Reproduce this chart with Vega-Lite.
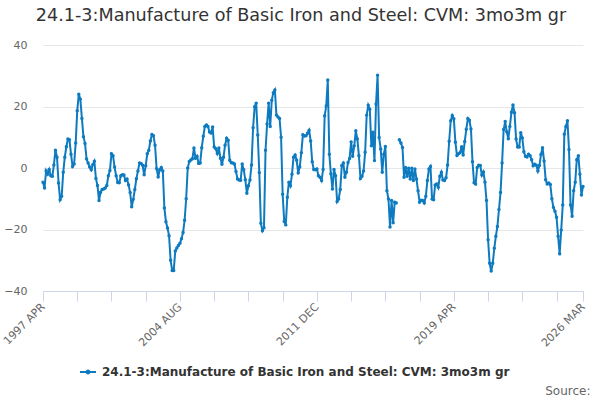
{
  "$schema": "https://vega.github.io/schema/vega-lite/v6.json",
  "width": 540,
  "height": 246,
  "autosize": "none",
  "padding": {"left": 43, "top": 45, "right": 17, "bottom": 109},
  "background": "white",
  "title": {
    "text": "24.1-3:Manufacture of Basic Iron and Steel: CVM: 3mo3m gr",
    "font": "DejaVu Sans",
    "fontSize": 17.6,
    "fontWeight": "normal",
    "color": "#333333",
    "anchor": "middle",
    "dx": -12,
    "offset": 14
  },
  "data": {
    "values": [
      {"m": "1997 APR", "v": -4.6}, {"m": "1997 MAY", "v": -6.5}, {"m": "1997 JUN", "v": -0.9}, {"m": "1997 JUL", "v": -2.0}, {"m": "1997 AUG", "v": -0.5}, {"m": "1997 SEP", "v": -2.5}, {"m": "1997 OCT", "v": -2.7}, {"m": "1997 NOV", "v": 1.0}, {"m": "1997 DEC", "v": 5.8},
      {"m": "1998 JAN", "v": 3.5}, {"m": "1998 FEB", "v": -4.9}, {"m": "1998 MAR", "v": -10.3}, {"m": "1998 APR", "v": -9.2}, {"m": "1998 MAY", "v": -1.4}, {"m": "1998 JUN", "v": 3.5}, {"m": "1998 JUL", "v": 6.9}, {"m": "1998 AUG", "v": 9.4}, {"m": "1998 SEP", "v": 9.2}, {"m": "1998 OCT", "v": 4.5}, {"m": "1998 NOV", "v": 0.5}, {"m": "1998 DEC", "v": 1.3},
      {"m": "1999 JAN", "v": 8.1}, {"m": "1999 FEB", "v": 18.6}, {"m": "1999 MAR", "v": 24.0}, {"m": "1999 APR", "v": 22.4}, {"m": "1999 MAY", "v": 16.1}, {"m": "1999 JUN", "v": 10.2}, {"m": "1999 JUL", "v": 8.0}, {"m": "1999 AUG", "v": 2.9}, {"m": "1999 SEP", "v": 1.6}, {"m": "1999 OCT", "v": 0.3}, {"m": "1999 NOV", "v": -0.6}, {"m": "1999 DEC", "v": 1.1},
      {"m": "2000 JAN", "v": 2.2}, {"m": "2000 FEB", "v": -3.4}, {"m": "2000 MAR", "v": -5.7}, {"m": "2000 APR", "v": -10.6}, {"m": "2000 MAY", "v": -7.9}, {"m": "2000 JUN", "v": -7.0}, {"m": "2000 JUL", "v": -6.8}, {"m": "2000 AUG", "v": -6.5}, {"m": "2000 SEP", "v": -5.7}, {"m": "2000 OCT", "v": -2.5}, {"m": "2000 NOV", "v": -0.8}, {"m": "2000 DEC", "v": 4.6},
      {"m": "2001 JAN", "v": 4.0}, {"m": "2001 FEB", "v": 0.3}, {"m": "2001 MAR", "v": -2.5}, {"m": "2001 APR", "v": -4.7}, {"m": "2001 MAY", "v": -4.8}, {"m": "2001 JUN", "v": -2.5}, {"m": "2001 JUL", "v": -2.2}, {"m": "2001 AUG", "v": -2.3}, {"m": "2001 SEP", "v": -4.1}, {"m": "2001 OCT", "v": -3.6}, {"m": "2001 NOV", "v": -5.5}, {"m": "2001 DEC", "v": -8.0},
      {"m": "2002 JAN", "v": -12.6}, {"m": "2002 FEB", "v": -10.2}, {"m": "2002 MAR", "v": -7.0}, {"m": "2002 APR", "v": -3.5}, {"m": "2002 MAY", "v": -1.0}, {"m": "2002 JUN", "v": 1.6}, {"m": "2002 JUL", "v": 1.5}, {"m": "2002 AUG", "v": 0.9}, {"m": "2002 SEP", "v": -2.2}, {"m": "2002 OCT", "v": 0.7}, {"m": "2002 NOV", "v": 4.6}, {"m": "2002 DEC", "v": 5.8},
      {"m": "2003 JAN", "v": 8.8}, {"m": "2003 FEB", "v": 10.9}, {"m": "2003 MAR", "v": 10.5}, {"m": "2003 APR", "v": 7.4}, {"m": "2003 MAY", "v": -0.2}, {"m": "2003 JUN", "v": -2.9}, {"m": "2003 JUL", "v": -0.6}, {"m": "2003 AUG", "v": 0.2}, {"m": "2003 SEP", "v": -1.0}, {"m": "2003 OCT", "v": -13.0}, {"m": "2003 NOV", "v": -17.5}, {"m": "2003 DEC", "v": -19.5},
      {"m": "2004 JAN", "v": -22.0}, {"m": "2004 FEB", "v": -30.0}, {"m": "2004 MAR", "v": -33.3}, {"m": "2004 APR", "v": -33.3}, {"m": "2004 MAY", "v": -27.0}, {"m": "2004 JUN", "v": -26.0}, {"m": "2004 JUL", "v": -25.2}, {"m": "2004 AUG", "v": -24.5}, {"m": "2004 SEP", "v": -23.0}, {"m": "2004 OCT", "v": -21.0}, {"m": "2004 NOV", "v": -17.0}, {"m": "2004 DEC", "v": -10.0},
      {"m": "2005 JAN", "v": 0.0}, {"m": "2005 FEB", "v": 2.1}, {"m": "2005 MAR", "v": 2.6}, {"m": "2005 APR", "v": 3.0}, {"m": "2005 MAY", "v": 6.5}, {"m": "2005 JUN", "v": 3.2}, {"m": "2005 JUL", "v": 3.8}, {"m": "2005 AUG", "v": 1.5}, {"m": "2005 SEP", "v": 1.6}, {"m": "2005 OCT", "v": 6.6}, {"m": "2005 NOV", "v": 10.3}, {"m": "2005 DEC", "v": 13.5},
      {"m": "2006 JAN", "v": 14.0}, {"m": "2006 FEB", "v": 13.5}, {"m": "2006 MAR", "v": 11.7}, {"m": "2006 APR", "v": 11.4}, {"m": "2006 MAY", "v": 13.3}, {"m": "2006 JUN", "v": 6.8}, {"m": "2006 JUL", "v": 6.3}, {"m": "2006 AUG", "v": 4.7}, {"m": "2006 SEP", "v": 6.5}, {"m": "2006 OCT", "v": 3.2}, {"m": "2006 NOV", "v": 1.2}, {"m": "2006 DEC", "v": 3.5},
      {"m": "2007 JAN", "v": 7.4}, {"m": "2007 FEB", "v": 9.7}, {"m": "2007 MAR", "v": 9.0}, {"m": "2007 APR", "v": 2.5}, {"m": "2007 MAY", "v": 1.7}, {"m": "2007 JUN", "v": 1.6}, {"m": "2007 JUL", "v": 1.3}, {"m": "2007 AUG", "v": -1.1}, {"m": "2007 SEP", "v": -3.6}, {"m": "2007 OCT", "v": -3.9}, {"m": "2007 NOV", "v": -4.0}, {"m": "2007 DEC", "v": 1.3},
      {"m": "2008 JAN", "v": -0.6}, {"m": "2008 FEB", "v": -3.8}, {"m": "2008 MAR", "v": -8.2}, {"m": "2008 APR", "v": -5.8}, {"m": "2008 MAY", "v": -3.9}, {"m": "2008 JUN", "v": 1.0}, {"m": "2008 JUL", "v": 13.1}, {"m": "2008 AUG", "v": 19.9}, {"m": "2008 SEP", "v": 21.1}, {"m": "2008 OCT", "v": 10.7}, {"m": "2008 NOV", "v": -1.5}, {"m": "2008 DEC", "v": -18.0},
      {"m": "2009 JAN", "v": -20.4}, {"m": "2009 FEB", "v": -19.4}, {"m": "2009 MAR", "v": 5.8}, {"m": "2009 APR", "v": 14.3}, {"m": "2009 MAY", "v": 21.1}, {"m": "2009 JUN", "v": 13.5}, {"m": "2009 JUL", "v": 22.0}, {"m": "2009 AUG", "v": 24.5}, {"m": "2009 SEP", "v": 25.4}, {"m": "2009 OCT", "v": 17.2}, {"m": "2009 NOV", "v": 16.6}, {"m": "2009 DEC", "v": 16.1},
      {"m": "2010 JAN", "v": 10.0}, {"m": "2010 FEB", "v": -8.5}, {"m": "2010 MAR", "v": -17.4}, {"m": "2010 APR", "v": -18.5}, {"m": "2010 MAY", "v": -9.5}, {"m": "2010 JUN", "v": -4.6}, {"m": "2010 JUL", "v": -5.8}, {"m": "2010 AUG", "v": -2.0}, {"m": "2010 SEP", "v": 3.5}, {"m": "2010 OCT", "v": 4.2}, {"m": "2010 NOV", "v": 2.5}, {"m": "2010 DEC", "v": -1.6},
      {"m": "2011 JAN", "v": 0.4}, {"m": "2011 FEB", "v": 5.0}, {"m": "2011 MAR", "v": 10.8}, {"m": "2011 APR", "v": 10.4}, {"m": "2011 MAY", "v": 10.5}, {"m": "2011 JUN", "v": 11.3}, {"m": "2011 JUL", "v": 12.3}, {"m": "2011 AUG", "v": 8.8}, {"m": "2011 SEP", "v": 2.0}, {"m": "2011 OCT", "v": -0.5}, {"m": "2011 NOV", "v": -0.6}, {"m": "2011 DEC", "v": -0.3},
      {"m": "2012 JAN", "v": -2.5}, {"m": "2012 FEB", "v": -3.0}, {"m": "2012 MAR", "v": -4.1}, {"m": "2012 APR", "v": -0.5}, {"m": "2012 MAY", "v": 17.0}, {"m": "2012 JUN", "v": 20.2}, {"m": "2012 JUL", "v": 28.6}, {"m": "2012 AUG", "v": 4.5}, {"m": "2012 SEP", "v": -1.9}, {"m": "2012 OCT", "v": -6.8}, {"m": "2012 NOV", "v": -0.5}, {"m": "2012 DEC", "v": -2.5},
      {"m": "2013 JAN", "v": -10.9}, {"m": "2013 FEB", "v": -10.1}, {"m": "2013 MAR", "v": -7.0}, {"m": "2013 APR", "v": 0.8}, {"m": "2013 MAY", "v": 1.6}, {"m": "2013 JUN", "v": -3.0}, {"m": "2013 JUL", "v": -1.4}, {"m": "2013 AUG", "v": 1.8}, {"m": "2013 SEP", "v": 3.1}, {"m": "2013 OCT", "v": 8.5}, {"m": "2013 NOV", "v": 3.8}, {"m": "2013 DEC", "v": 7.2},
      {"m": "2014 JAN", "v": 12.1}, {"m": "2014 FEB", "v": 9.4}, {"m": "2014 MAR", "v": 4.0}, {"m": "2014 APR", "v": -3.4}, {"m": "2014 MAY", "v": -2.7}, {"m": "2014 JUN", "v": -1.0}, {"m": "2014 JUL", "v": 5.1}, {"m": "2014 AUG", "v": 17.2}, {"m": "2014 SEP", "v": 20.4}, {"m": "2014 OCT", "v": 19.1}, {"m": "2014 NOV", "v": 7.2}, {"m": "2014 DEC", "v": 11.6},
      {"m": "2015 JAN", "v": 2.4}, {"m": "2015 FEB", "v": 20.8}, {"m": "2015 MAR", "v": 30.2}, {"m": "2015 APR", "v": 9.9}, {"m": "2015 MAY", "v": 6.2}, {"m": "2015 JUN", "v": -1.4}, {"m": "2015 JUL", "v": 4.5}, {"m": "2015 AUG", "v": 7.0}, {"m": "2015 SEP", "v": -7.4}, {"m": "2015 OCT", "v": -10.1}, {"m": "2015 NOV", "v": -19.2}, {"m": "2015 DEC", "v": -10.6},
      {"m": "2016 JAN", "v": -17.8}, {"m": "2016 FEB", "v": -11.1}, {"m": "2016 MAR", "v": -11.4}, {"m": "2016 APR", "v": null}, {"m": "2016 MAY", "v": 9.2}, {"m": "2016 JUN", "v": 8.1}, {"m": "2016 JUL", "v": 6.7}, {"m": "2016 AUG", "v": -3.0}, {"m": "2016 SEP", "v": 0.2}, {"m": "2016 OCT", "v": -2.7}, {"m": "2016 NOV", "v": -0.1}, {"m": "2016 DEC", "v": -3.6},
      {"m": "2017 JAN", "v": -0.1}, {"m": "2017 FEB", "v": -4.1}, {"m": "2017 MAR", "v": -0.3}, {"m": "2017 APR", "v": -3.6}, {"m": "2017 MAY", "v": -7.4}, {"m": "2017 JUN", "v": -11.1}, {"m": "2017 JUL", "v": -10.5}, {"m": "2017 AUG", "v": -10.6}, {"m": "2017 SEP", "v": -11.4}, {"m": "2017 OCT", "v": -9.2}, {"m": "2017 NOV", "v": -4.1}, {"m": "2017 DEC", "v": -0.3},
      {"m": "2018 JAN", "v": 0.5}, {"m": "2018 FEB", "v": -10.1}, {"m": "2018 MAR", "v": -10.3}, {"m": "2018 APR", "v": -5.5}, {"m": "2018 MAY", "v": -5.2}, {"m": "2018 JUN", "v": -6.3}, {"m": "2018 JUL", "v": -2.7}, {"m": "2018 AUG", "v": -1.4}, {"m": "2018 SEP", "v": -3.9}, {"m": "2018 OCT", "v": -4.1}, {"m": "2018 NOV", "v": -3.2}, {"m": "2018 DEC", "v": 1.0},
      {"m": "2019 JAN", "v": 8.7}, {"m": "2019 FEB", "v": 15.4}, {"m": "2019 MAR", "v": 17.1}, {"m": "2019 APR", "v": 16.0}, {"m": "2019 MAY", "v": 8.4}, {"m": "2019 JUN", "v": 4.1}, {"m": "2019 JUL", "v": 4.6}, {"m": "2019 AUG", "v": 5.0}, {"m": "2019 SEP", "v": 6.9}, {"m": "2019 OCT", "v": 4.2}, {"m": "2019 NOV", "v": 8.6}, {"m": "2019 DEC", "v": 12.6},
      {"m": "2020 JAN", "v": 16.1}, {"m": "2020 FEB", "v": 15.5}, {"m": "2020 MAR", "v": 12.7}, {"m": "2020 APR", "v": 2.0}, {"m": "2020 MAY", "v": -4.8}, {"m": "2020 JUN", "v": -5.2}, {"m": "2020 JUL", "v": 0.2}, {"m": "2020 AUG", "v": 0.9}, {"m": "2020 SEP", "v": 0.8}, {"m": "2020 OCT", "v": -2.3}, {"m": "2020 NOV", "v": -1.3}, {"m": "2020 DEC", "v": -4.6},
      {"m": "2021 JAN", "v": -10.6}, {"m": "2021 FEB", "v": -23.3}, {"m": "2021 MAR", "v": -31.0}, {"m": "2021 APR", "v": -33.5}, {"m": "2021 MAY", "v": -31.0}, {"m": "2021 JUN", "v": -26.1}, {"m": "2021 JUL", "v": -22.2}, {"m": "2021 AUG", "v": -19.0}, {"m": "2021 SEP", "v": -13.5}, {"m": "2021 OCT", "v": -8.0}, {"m": "2021 NOV", "v": 1.6}, {"m": "2021 DEC", "v": 12.5},
      {"m": "2022 JAN", "v": 15.1}, {"m": "2022 FEB", "v": 11.8}, {"m": "2022 MAR", "v": 9.5}, {"m": "2022 APR", "v": 13.5}, {"m": "2022 MAY", "v": 18.1}, {"m": "2022 JUN", "v": 20.5}, {"m": "2022 JUL", "v": 18.0}, {"m": "2022 AUG", "v": 9.4}, {"m": "2022 SEP", "v": 6.8}, {"m": "2022 OCT", "v": 6.8}, {"m": "2022 NOV", "v": 11.5}, {"m": "2022 DEC", "v": 9.8},
      {"m": "2023 JAN", "v": 5.3}, {"m": "2023 FEB", "v": 3.8}, {"m": "2023 MAR", "v": 3.6}, {"m": "2023 APR", "v": 4.5}, {"m": "2023 MAY", "v": 4.0}, {"m": "2023 JUN", "v": 2.7}, {"m": "2023 JUL", "v": 0.7}, {"m": "2023 AUG", "v": 1.2}, {"m": "2023 SEP", "v": 0.9}, {"m": "2023 OCT", "v": -1.0}, {"m": "2023 NOV", "v": 0.8}, {"m": "2023 DEC", "v": 4.4},
      {"m": "2024 JAN", "v": 6.6}, {"m": "2024 FEB", "v": 2.3}, {"m": "2024 MAR", "v": -3.8}, {"m": "2024 APR", "v": -5.2}, {"m": "2024 MAY", "v": -4.9}, {"m": "2024 JUN", "v": -5.4}, {"m": "2024 JUL", "v": -10.0}, {"m": "2024 AUG", "v": -12.8}, {"m": "2024 SEP", "v": -14.1}, {"m": "2024 OCT", "v": -16.0}, {"m": "2024 NOV", "v": -22.2}, {"m": "2024 DEC", "v": -27.9},
      {"m": "2025 JAN", "v": -20.2}, {"m": "2025 FEB", "v": -12.0}, {"m": "2025 MAR", "v": 11.0}, {"m": "2025 APR", "v": 13.5}, {"m": "2025 MAY", "v": 15.4}, {"m": "2025 JUN", "v": 6.0}, {"m": "2025 JUL", "v": -12.0}, {"m": "2025 AUG", "v": -15.7}, {"m": "2025 SEP", "v": -7.4}, {"m": "2025 OCT", "v": -4.6}, {"m": "2025 NOV", "v": 2.7}, {"m": "2025 DEC", "v": 4.0},
      {"m": "2026 JAN", "v": -2.0}, {"m": "2026 FEB", "v": -8.8}, {"m": "2026 MAR", "v": -6.0}
    ]
  },
  "mark": {
    "type": "line",
    "strokeWidth": 2,
    "invalid": "break-paths-show-domains",
    "point": {"filled": true, "size": 12}
  },
  "encoding": {
    "x": {
      "field": "m",
      "type": "ordinal",
      "sort": null,
      "scale": {"type": "point", "padding": 0},
      "axis": {
        "values": ["1997 APR", "1999 FEB", "2000 DEC", "2002 OCT", "2004 AUG", "2006 JUN", "2008 APR", "2010 FEB", "2011 DEC", "2013 OCT", "2015 AUG", "2017 JUN", "2019 APR", "2021 FEB", "2022 DEC", "2024 OCT", "2026 MAR"],
        "labelExpr": "(datum.value == '1997 APR' || datum.value == '2004 AUG' || datum.value == '2011 DEC' || datum.value == '2019 APR' || datum.value == '2026 MAR') ? datum.value : ''",
        "labelAngle": -45,
        "labelAlign": "right",
        "labelBaseline": "middle",
        "labelPadding": 4,
        "labelOverlap": false,
        "labelFont": "DejaVu Sans",
        "labelFontSize": 11,
        "labelColor": "#666666",
        "domainColor": "#ccd6eb",
        "tickColor": "#ccd6eb",
        "tickSize": 10,
        "grid": false,
        "title": "Source:",
        "titleFont": "DejaVu Sans",
        "titleFontSize": 12,
        "titleFontWeight": "normal",
        "titleColor": "#666666",
        "titleAnchor": "end",
        "titleAlign": "right",
        "titleBaseline": "alphabetic",
        "titleX": 547,
        "titleY": 103
      }
    },
    "y": {
      "field": "v",
      "type": "quantitative",
      "scale": {"domain": [-40, 40], "nice": false},
      "axis": {
        "values": [-40, -20, 0, 20, 40],
        "title": null,
        "domain": false,
        "ticks": false,
        "labelPadding": 16,
        "labelFont": "DejaVu Sans",
        "labelFontSize": 11,
        "labelColor": "#666666",
        "gridColor": "#e6e6e6"
      }
    },
    "color": {
      "datum": "24.1-3:Manufacture of Basic Iron and Steel: CVM: 3mo3m gr",
      "scale": {"range": ["#0e7bc0"]},
      "legend": {
        "title": null,
        "orient": "none",
        "legendX": 37,
        "legendY": 319,
        "symbolType": "M-1,-0.12L1,-0.12L1,0.12L-1,0.12Z M0.3,0A0.3,0.3,0,1,1,-0.3,0A0.3,0.3,0,1,1,0.3,0Z",
        "symbolSize": 256,
        "symbolFillColor": "#0e7bc0",
        "symbolStrokeWidth": 0,
        "labelFont": "DejaVu Sans",
        "labelFontSize": 12,
        "labelFontWeight": "bold",
        "labelColor": "#333333",
        "labelLimit": 600,
        "labelOffset": 6
      }
    }
  },
  "config": {
    "view": {"stroke": null}
  }
}
